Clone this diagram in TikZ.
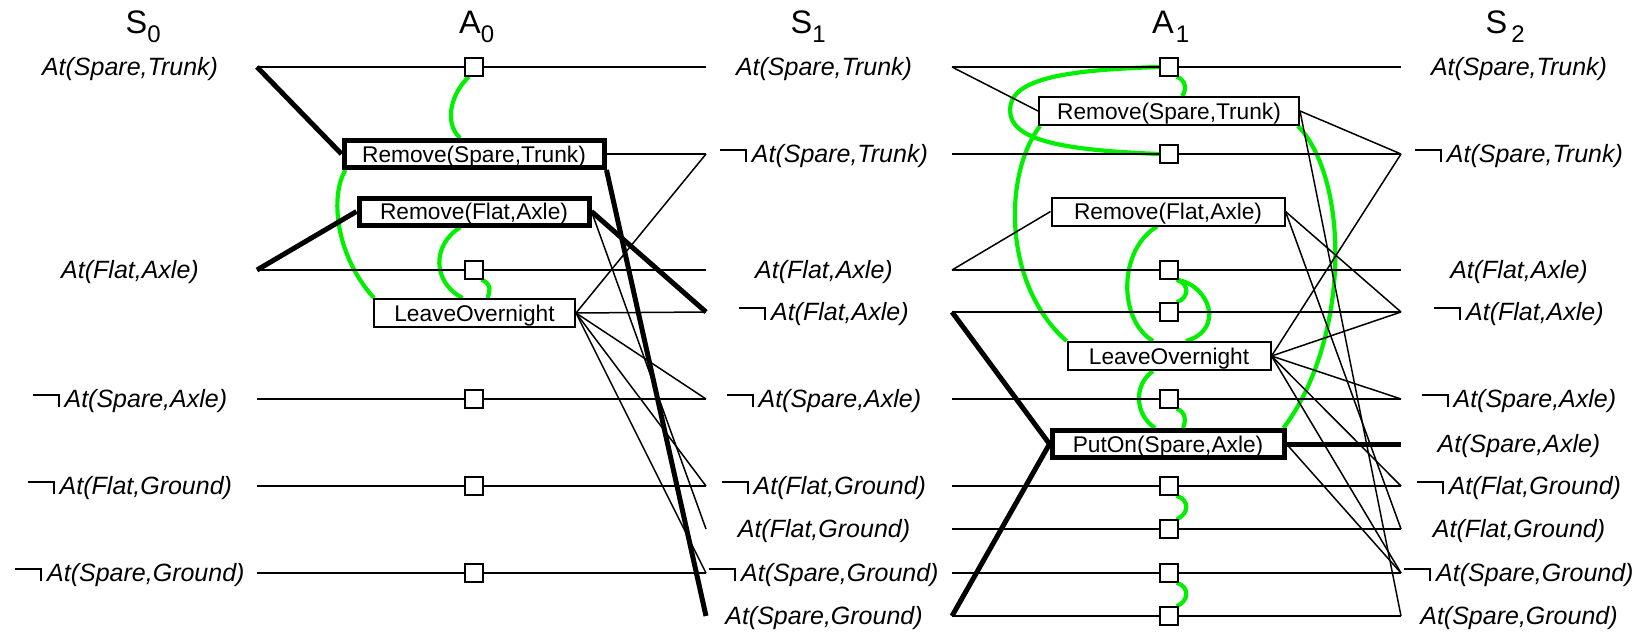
\documentclass[tikz,border=0pt]{standalone}
\usepackage{fontspec}
\setmainfont{Liberation Sans}
\usetikzlibrary{backgrounds}
\definecolor{mutexgreen}{RGB}{0,240,0}

% wide logical-not sign used in front of negated literals
\newcommand{\NotSign}{\rule[0.46em]{1.0em}{0.07em}\rule{0.07em}{0.53em}\hspace{0.2em}}
% lowered index of a level title
\newcommand{\lvlsub}[1]{\raisebox{-9.5pt}{\fontsize{24}{24}\selectfont #1}}

\begin{document}
\begin{tikzpicture}[x=1pt,y=-1pt,
  thinline/.style={line width=1.5pt},
  thickline/.style={line width=5pt, line join=miter},
  mutex/.style={line width=4.2pt, draw=mutexgreen},
  act/.style={draw, fill=white, line width=2pt, inner sep=0pt,
    minimum height=28pt, text height=16.2pt, text depth=0pt,
    font=\fontsize{22.7}{27}\selectfont},
  actstrong/.style={act, line width=5pt, minimum height=27pt},
  noop/.style={draw, fill=white, line width=1.5pt, inner sep=0pt,
    minimum width=18pt, minimum height=18pt},
  lit/.style={anchor=base, inner sep=0pt, font=\fontsize{25}{30}\selectfont\itshape},
  level/.style={anchor=base west, inner sep=0pt, font=\fontsize{32.5}{38}\selectfont}]

\useasboundingbox (0,0) rectangle (1640,632);

% ---------- level titles ----------
\node[level] (tS0) at (125.5,33) {S\lvlsub{0}};
\node[level] (tA0) at (459,33) {A\lvlsub{0}};
\node[level] (tS1) at (790.5,33) {S\lvlsub{1}};
\node[level] (tA1) at (1152,33) {A\hspace{2pt}\lvlsub{1}};
\node[level] (tS2) at (1485.5,33) {S\hspace{4pt}\lvlsub{2}};

% ---------- line ends of every state row ----------
\foreach \n/\y in {1/67,2/154,3/270,4/312,5/399,6/444,7/486,8/529,9/573,10/616} {
  \coordinate (R0-\n) at (257,\y);
  \coordinate (L1-\n) at (706,\y);
  \coordinate (R1-\n) at (952,\y);
  \coordinate (L2-\n) at (1401,\y);
}

% ---------- literals of S0 ----------
\node[lit] (s0-1) at (130,75)  {At(Spare,Trunk)};
\node[lit] (s0-3) at (130,278) {At(Flat,Axle)};
\node[lit] (s0-5) at (130,407) {\NotSign At(Spare,Axle)};
\node[lit] (s0-7) at (130,494) {\NotSign At(Flat,Ground)};
\node[lit] (s0-9) at (130,581) {\NotSign At(Spare,Ground)};

% ---------- literals of S1 ----------
\node[lit] (s1-1)  at (824,75)  {At(Spare,Trunk)};
\node[lit] (s1-2)  at (824,162) {\NotSign At(Spare,Trunk)};
\node[lit] (s1-3)  at (824,278) {At(Flat,Axle)};
\node[lit] (s1-4)  at (824,320) {\NotSign At(Flat,Axle)};
\node[lit] (s1-5)  at (824,407) {\NotSign At(Spare,Axle)};
\node[lit] (s1-7)  at (824,494) {\NotSign At(Flat,Ground)};
\node[lit] (s1-8)  at (824,537) {At(Flat,Ground)};
\node[lit] (s1-9)  at (824,581) {\NotSign At(Spare,Ground)};
\node[lit] (s1-10) at (824,624) {At(Spare,Ground)};

% ---------- literals of S2 ----------
\node[lit] (s2-1)  at (1519,75)  {At(Spare,Trunk)};
\node[lit] (s2-2)  at (1519,162) {\NotSign At(Spare,Trunk)};
\node[lit] (s2-3)  at (1519,278) {At(Flat,Axle)};
\node[lit] (s2-4)  at (1519,320) {\NotSign At(Flat,Axle)};
\node[lit] (s2-5)  at (1519,407) {\NotSign At(Spare,Axle)};
\node[lit] (s2-6)  at (1519,452) {At(Spare,Axle)};
\node[lit] (s2-7)  at (1519,494) {\NotSign At(Flat,Ground)};
\node[lit] (s2-8)  at (1519,537) {At(Flat,Ground)};
\node[lit] (s2-9)  at (1519,581) {\NotSign At(Spare,Ground)};
\node[lit] (s2-10) at (1519,624) {At(Spare,Ground)};

% ---------- actions of A0 ----------
\node[actstrong, minimum width=260pt] (RST0) at (474,154)   {Remove(Spare,Trunk)};
\node[actstrong, minimum width=230pt] (RFA0) at (474,211.5) {Remove(Flat,Axle)};
\node[act, minimum width=201pt]       (LO0)  at (474.5,313) {LeaveOvernight};
\foreach \n/\y in {1/67,3/270,5/399,7/486,9/573}
  \node[noop] (q0-\n) at (474,\y) {};

% ---------- actions of A1 ----------
\node[act, minimum width=260pt]       (RST1) at (1169,111)   {Remove(Spare,Trunk)};
\node[act, minimum width=233pt]       (RFA1) at (1168,211.5) {Remove(Flat,Axle)};
\node[act, minimum width=203pt]       (LO1)  at (1169,356)   {LeaveOvernight};
\node[actstrong, minimum width=232pt] (PO1)  at (1168,444)   {PutOn(Spare,Axle)};
\foreach \n/\y in {1/67,2/154,3/270,4/312,5/399,7/486,8/529,9/573,10/616}
  \node[noop] (q1-\n) at (1169,\y) {};

\begin{scope}[on background layer]
  % ----- mutex links, level A0 -----
  \draw[mutex] ([xshift=-5pt]q0-1.south) .. controls (452,92) and (443,122) .. ([xshift=-14pt]RST0.north);
  \draw[mutex] ([xshift=4pt]RST0.south west) .. controls (330,195) and (335,255) .. ([xshift=1pt]LO0.north west);
  \draw[mutex] ([xshift=-14pt]RFA0.south) .. controls (432,245) and (432,282) .. ([xshift=-12pt]LO0.north);
  \draw[mutex] ([xshift=-2pt]q0-3.south east) .. controls (492,284) and (490,292) .. ([xshift=13pt]LO0.north);

  % ----- mutex links, level A1 -----
  \draw[mutex] (q1-1.west) .. controls (1060,70) and (1010,80) .. (1010,110)
                           .. controls (1010,140) and (1060,150) .. (q1-2.west);
  \draw[mutex] ([xshift=-2pt]q1-1.south east) .. controls (1186,80) and (1187,90) .. ([xshift=13pt]RST1.north);
  \draw[mutex] ([xshift=2pt]RST1.south west) .. controls (1003,175) and (1003,285) .. (LO1.north west);
  \draw[mutex] ([xshift=-2pt]RST1.south east) .. controls (1350,180) and (1350,340) .. ([xshift=-3pt]PO1.north east);
  \draw[mutex] ([xshift=-11pt]RFA1.south) .. controls (1118,250) and (1118,320) .. ([xshift=-16pt]LO1.north);
  \draw[mutex] ([xshift=-2pt]q1-3.south east) .. controls (1190,284) and (1189,298) .. ([xshift=-2pt]q1-4.north east);
  \draw[mutex] ([xshift=-2pt]q1-3.south east) .. controls (1210,285) and (1225,330) .. ([xshift=17pt]LO1.north);
  \draw[mutex] ([xshift=-16pt]LO1.south) .. controls (1133,385) and (1135,415) .. ([xshift=-13pt]PO1.north);
  \draw[mutex] ([xshift=-2pt]q1-5.south east) .. controls (1186,412) and (1186,421) .. ([xshift=15pt]PO1.north);
  \draw[mutex] ([xshift=-2pt]q1-7.south east) .. controls (1190,500) and (1189,514) .. ([xshift=-2pt]q1-8.north east);
  \draw[mutex] ([xshift=-2pt]q1-9.south east) .. controls (1190,587) and (1189,601) .. ([xshift=-2pt]q1-10.north east);

  % ----- persistence lines -----
  \foreach \n in {1,3,5,7,9}
    \draw[thinline] (R0-\n) -- (L1-\n);
  \foreach \n in {1,2,3,4,5,7,8,9,10}
    \draw[thinline] (R1-\n) -- (L2-\n);

  % ----- preconditions -----
  \draw[thickline] (R0-1) -- (RST0.west);
  \draw[thickline] (R0-3) -- (RFA0.west);
  \draw[thinline] (R1-1) -- (RST1.west);
  \draw[thinline] (R1-3) -- (RFA1.west);
  \draw[thickline] (R1-4) -- (PO1.west) -- (R1-10);

  % ----- effects of A0 -----
  \draw[thinline] (RST0.east) -- (L1-2);
  \draw[thickline] (RST0.south east) -- (L1-10);
  \draw[thickline] (RFA0.east) -- (L1-4);
  \draw[thinline] (RFA0.east) -- (L1-8);
  \foreach \n in {2,4,5,7,9}
    \draw[thinline] (LO0.east) -- (L1-\n);

  % ----- effects of A1 -----
  \draw[thinline] (RST1.east) -- (L2-2);
  \draw[thinline] (RST1.east) -- (L2-10);
  \draw[thinline] (RFA1.east) -- (L2-4);
  \draw[thinline] (RFA1.east) -- (L2-8);
  \foreach \n in {2,4,5,7,9}
    \draw[thinline] (LO1.east) -- (L2-\n);
  \draw[thickline] (PO1.east) -- (L2-6);
  \draw[thinline] (PO1.east) -- (L2-9);
\end{scope}
\end{tikzpicture}
\end{document}
